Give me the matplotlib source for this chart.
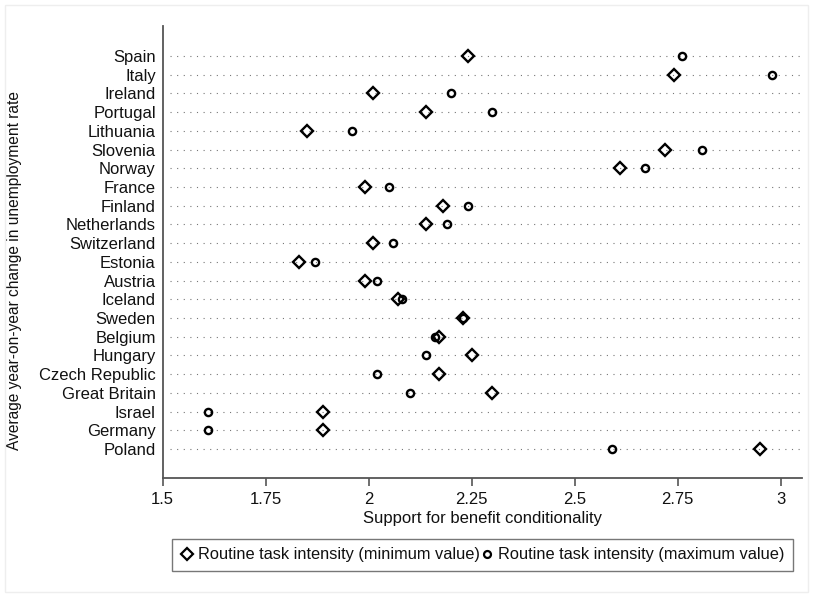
import matplotlib
matplotlib.use("Agg")
import matplotlib.pyplot as plt
from matplotlib.patches import Rectangle
from matplotlib.lines import Line2D

plt.rcParams['font.family'] = ['Liberation Sans', 'DejaVu Sans']

countries = ["Spain", "Italy", "Ireland", "Portugal", "Lithuania", "Slovenia", "Norway",
             "France", "Finland", "Netherlands", "Switzerland", "Estonia", "Austria",
             "Iceland", "Sweden", "Belgium", "Hungary", "Czech Republic", "Great Britain",
             "Israel", "Germany", "Poland"]
rti_min = [2.24, 2.74, 2.01, 2.14, 1.85, 2.72, 2.61, 1.99, 2.18, 2.14, 2.01, 1.83, 1.99,
           2.07, 2.23, 2.17, 2.25, 2.17, 2.30, 1.89, 1.89, 2.95]
rti_max = [2.76, 2.98, 2.20, 2.30, 1.96, 2.81, 2.67, 2.05, 2.24, 2.19, 2.06, 1.87, 2.02,
           2.08, 2.23, 2.16, 2.14, 2.02, 2.10, 1.61, 1.61, 2.59]
xticks = [1.5, 1.75, 2, 2.25, 2.5, 2.75, 3]
xticklabels = ["1.5", "1.75", "2", "2.25", "2.5", "2.75", "3"]

FS = 12
W, H = 813, 597
AX_L, AX_R, AX_T, AX_B = 162.7, 801.7, 26, 478
fig = plt.figure(figsize=(W / 100, H / 100), dpi=100)
ax = fig.add_axes([AX_L / W, 1 - AX_B / H, (AX_R - AX_L) / W, (AX_B - AX_T) / H])

n = len(countries)
ypos = [n - 1 - i for i in range(n)]
x0, x1 = 1.5, 3.051

ax.hlines(ypos, 1.518, x1, colors='#777777', linestyles=(0, (1, 4.95)), linewidth=0.8, zorder=1)
ax.plot(rti_min, ypos, linestyle='none', marker='D', markersize=6.4, mfc='none',
        mec='black', mew=1.7, zorder=3)
ax.plot(rti_max, ypos, linestyle='none', marker='o', markersize=5.2, mfc='none',
        mec='black', mew=1.7, zorder=3)

ax.set_xlim(x0, x1)
ax.set_ylim(-1.55, n - 1 + 1.6)
ax.set_yticks(ypos)
ax.set_yticklabels(countries, fontsize=FS, color='#111111')
ax.tick_params(axis='y', length=0, pad=5)
ax.set_xticks(xticks)
ax.set_xticklabels(xticklabels, fontsize=FS, color='#111111')
ax.tick_params(axis='x', length=6, width=1.2, color='#555555', pad=4)

for s in ['top', 'right']:
    ax.spines[s].set_visible(False)
for s in ['left', 'bottom']:
    ax.spines[s].set_color('#555555')
    ax.spines[s].set_linewidth(1.3)

ax.set_xlabel("Support for benefit conditionality", fontsize=FS, color='#111111', labelpad=3)
ax.set_ylabel("Average year-on-year change in unemployment rate", fontsize=11.2,
              color='#111111')
ax.yaxis.set_label_coords(-(AX_L - 22) / (AX_R - AX_L), 1 - (271 - AX_T) / (AX_B - AX_T))

handles = [Line2D([], [], linestyle='none', marker='D', markersize=6.2, mfc='none', mec='black', mew=1.6),
           Line2D([], [], linestyle='none', marker='o', markersize=5.0, mfc='none', mec='black', mew=1.6)]
leg = fig.legend(handles, ["Routine task intensity (minimum value)", "Routine task intensity (maximum value)"],
                 loc='center', bbox_to_anchor=((170.7 + 794.3) / 2 / W, 1 - 555 / H),
                 ncol=2, fontsize=11.8, frameon=True, fancybox=False, handlelength=0.8,
                 handletextpad=0.3, columnspacing=0.0, borderpad=0.5, borderaxespad=0)
leg.get_frame().set_edgecolor('#555555')
leg.get_frame().set_linewidth(1.0)
for t in leg.get_texts():
    t.set_color('#111111')

fig.patches.append(Rectangle((5 / W, 5 / H), 1 - 10 / W, 1 - 10 / H, transform=fig.transFigure,
                             fill=False, edgecolor='#eeeeee', linewidth=1))

fig.savefig("out.png", dpi=100)
